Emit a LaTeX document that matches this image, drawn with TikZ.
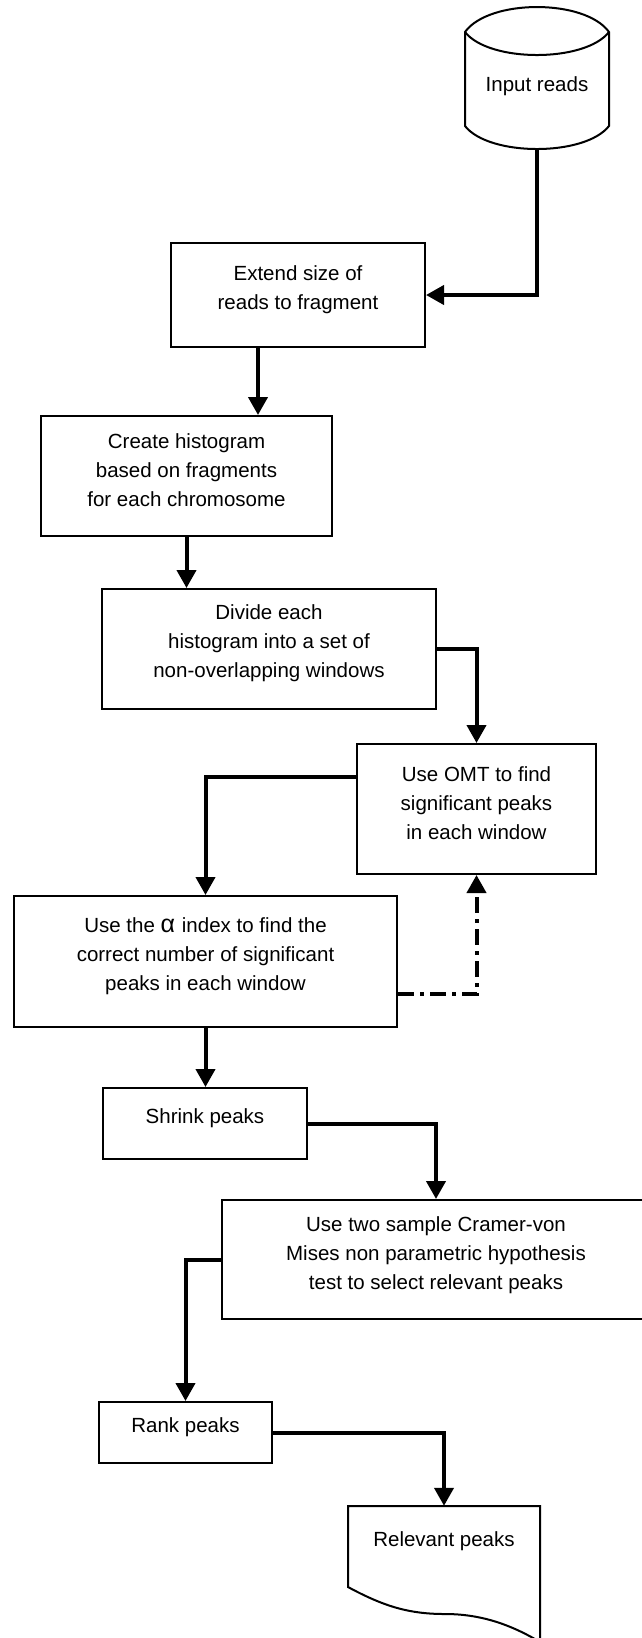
\documentclass[tikz,border=0pt]{standalone}
\usepackage{fontspec}
\setmainfont{Liberation Sans}
\usetikzlibrary{arrows.meta,calc}
\begin{document}
\begin{tikzpicture}[x=1pt,y=-1pt,
  box/.style={draw, line width=2pt, rectangle, inner sep=0pt},
  ghost/.style={rectangle, inner sep=0pt},
  txt/.style={align=center, font=\fontsize{20.5}{29}\selectfont, inner sep=0pt},
  arr/.style={line width=4pt, -{Triangle[length=18pt,width=19pt]}},
  dd/.style={arr, dash pattern=on 16pt off 6pt on 4pt off 6pt},
  shapeline/.style={line width=2pt}]
\useasboundingbox (0,0) rectangle (642,1638);

% Input reads (storage shape)
\node[ghost, minimum width=144pt, minimum height=142pt] (inp) at (537,78) {};
\draw[shapeline] (465,32) .. controls (489,-1.3) and (585,-1.3) .. (609,32)
  -- (609,126) .. controls (585,156.7) and (489,156.7) .. (465,126) -- cycle;
\draw[shapeline] (465,32) .. controls (489,62.7) and (585,62.7) .. (609,32);
\node[txt] (inpt) at ([yshift=-8pt]inp.center) {Input reads};

% Process boxes
\node[box, minimum width=254pt, minimum height=104pt] (b1) at (298,295) {};
\node[txt] (b1t) at ([yshift=5.5pt]b1.center) {Extend size of\\reads to fragment};

\node[box, minimum width=291pt, minimum height=120pt] (b2) at (186.5,476) {};
\node[txt] (b2t) at ([yshift=5.5pt]b2.center) {Create histogram\\based on fragments\\for each chromosome};

\node[box, minimum width=334pt, minimum height=120pt] (b3) at (269,649) {};
\node[txt] (b3t) at ([yshift=5.5pt]b3.center) {Divide each\\histogram into a set of\\non-overlapping windows};

\node[box, minimum width=239pt, minimum height=130pt] (b4) at (476.5,809) {};
\node[txt] (b4t) at ([yshift=5.5pt]b4.center) {Use OMT to find\\significant peaks\\ in each window};

\node[box, minimum width=383pt, minimum height=131pt] (b5) at (205.5,961.5) {};
\node[txt] (b5t) at ([yshift=5.5pt]b5.center) {Use the {\fontsize{25}{29}\selectfont α}\,\,index to find the\\correct number of significant\\peaks in each window};

\node[box, minimum width=204pt, minimum height=71pt] (b6) at (205,1123.5) {};
\node[txt] (b6t) at ([yshift=5pt]b6.center) {Shrink peaks};

\node[box, minimum width=428pt, minimum height=119pt] (b7) at (436,1259.5) {};
\node[txt] (b7t) at ([yshift=4.5pt]b7.center) {Use two sample Cramer-von\\Mises non parametric hypothesis\\test to select relevant peaks};

\node[box, minimum width=173pt, minimum height=61pt] (b8) at (185.5,1432.5) {};
\node[txt] (b8t) at ([yshift=5.5pt]b8.center) {Rank peaks};

% Document shape
\node[ghost, minimum width=192pt, minimum height=138pt] (doc) at (444,1575) {};
\draw[shapeline] (540,1642) -- (540,1506) -- (348,1506) -- (348,1587)
  .. controls (385,1607) and (410,1614) .. (445,1614)
  .. controls (480,1614) and (510,1624) .. (540,1642);
\node[txt] (doct) at (444,1541) {Relevant peaks};

% Connectors
\draw[arr] (inp.south) |- (b1.east);
\draw[arr] ([xshift=-40pt]b1.south) -- ([xshift=-40pt]b1.south |- b2.north);
\draw[arr] (b2.south) -- (b2.south |- b3.north);
\draw[arr] (b3.east) -| (b4.north);
\draw[arr] ([yshift=32pt]b4.west) -| (b5.north);
\draw[dd] ([yshift=-32.5pt]b5.east) -| (b4.south);
\draw[arr] (b5.south) -- (b5.south |- b6.north);
\draw[arr] (b6.east) -| (b7.north);
\draw[arr] (b7.west) -| (b8.north);
\draw[arr] (b8.east) -| (doc.north);
\end{tikzpicture}
\end{document}
